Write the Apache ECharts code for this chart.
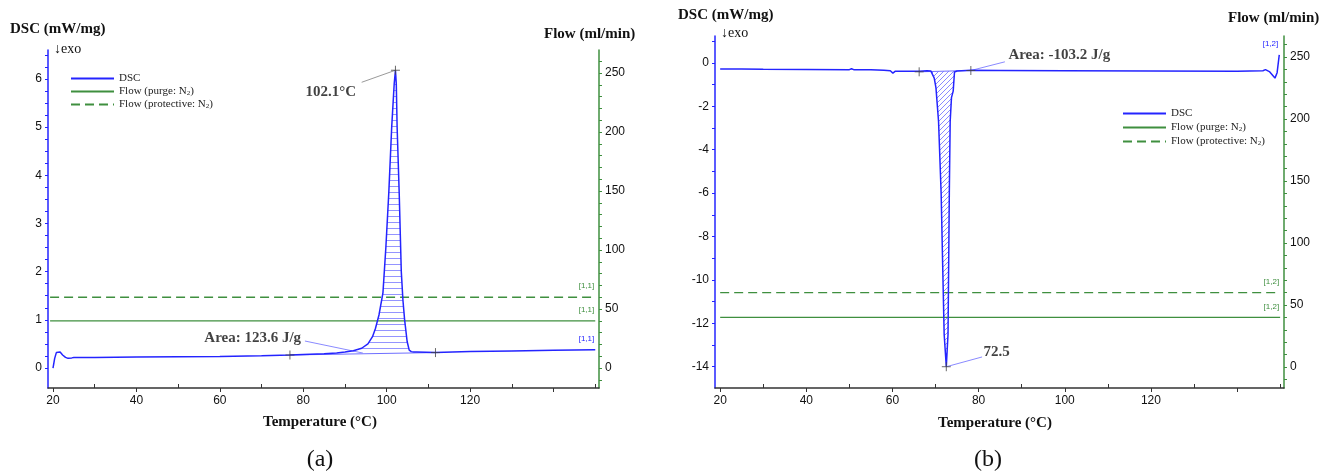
<!DOCTYPE html>
<html><head><meta charset="utf-8">
<script src="https://cdn.jsdelivr.net/npm/echarts@6/dist/echarts.min.js"></script>
<style>html,body{margin:0;padding:0;background:#fff}#c{width:1328px;height:473px}</style>
</head><body><div id="c"></div>
<script>
// ---------- data: panel (a) ----------
const dscA_T = [20,20.4,20.8,21.2,21.7,22.3,23,23.6,24.5,25,30,40,50,60,70,76.8,80,85,88,90,92,94,95.5,96.6,97.3,98.15,99.1,99.8,100.5,101.2,101.8,102.1,102.3,102.5,103.0,103.5,103.9,104.3,104.9,105.4,105.9,106.5,107.2,111.7,120,130,140,150];
const dscA_V = [0,0.2,0.32,0.35,0.33,0.27,0.22,0.2,0.21,0.22,0.22,0.23,0.235,0.24,0.255,0.27,0.28,0.295,0.31,0.33,0.36,0.41,0.5,0.65,0.82,1.1,1.56,2.5,3.63,5.0,5.9,6.18,5.9,5.0,3.63,2.0,1.4,1.0,0.55,0.37,0.34,0.33,0.33,0.32,0.34,0.355,0.37,0.38];
const baseA = [[76.8,0.27],[111.7,0.32]];
const peakA = [102.1,6.18];
// ---------- data: panel (b) ----------
const dscB_T = [20,25,30,40,50,50.5,51,55,58,59.5,60.1,60.6,61.5,64,66.2,68,68.9,69.7,70.1,70.7,71.3,72.0,72.5,72.9,73.2,73.4,73.7,74.1,74.4,75,78.2,85,100,120,140,146,146.6,147.5,148.8,149.3,149.8];
const dscB_V = [-0.28,-0.28,-0.29,-0.3,-0.31,-0.27,-0.31,-0.32,-0.34,-0.36,-0.47,-0.39,-0.38,-0.38,-0.38,-0.36,-0.37,-0.7,-1.15,-2.7,-6,-12.5,-14.0,-12.5,-6,-2.7,-1.6,-1.3,-0.42,-0.37,-0.34,-0.35,-0.36,-0.37,-0.38,-0.36,-0.31,-0.4,-0.7,-0.45,0.37];
const baseB = [[66.2,-0.41],[78.2,-0.35]];
const peakB = [72.5,-14.0];
// ---------- flows (ml/min) ----------
const flowRange = [20,150];
const purgeFlow = 40;
const protectiveFlow = 60;
// ---------- ticks ----------
const xLabelVals = [20,40,60,80,100,120];
const xMajorTicks = [20,40,60,80,100,120,140];
const xMinorTicks = [30,50,70,90,110,130,150];
const dscA_Labels = [0,1,2,3,4,5,6];
const dscB_Labels = [0,-2,-4,-6,-8,-10,-12,-14];
const flowLabels = [0,50,100,150,200,250];
// ---------- annotation texts ----------
const peakA_Text = '102.1°C', areaA_Text = 'Area: 123.6 J/g';
const peakB_Text = '72.5', areaB_Text = 'Area: -103.2 J/g';

const BLUE = '#2424ff', GREEN = '#3f8f3f', INK = '#111';
const SERIF = 'Liberation Serif', SANS = 'Liberation Sans';

function range(a,b,s){const r=[];for(let v=a;v<=b+1e-9;v+=s)r.push(+v.toFixed(4));return r;}
function pairs(T,V){return T.map((t,i)=>[t,V[i]]);}
function poly(T,V,base){
  const pts = pairs(T,V).filter(p=>p[0]>=base[0][0]&&p[0]<=base[1][0]);
  return [base[0]].concat(pts,[base[1]]);
}
function hatch(kind){
  const c=document.createElement('canvas'); const g=c.getContext('2d');
  g.lineWidth=1;
  if(kind==='h'){c.width=8;c.height=6;g.strokeStyle='rgba(60,60,255,0.55)';g.beginPath();g.moveTo(0,0.5);g.lineTo(8,0.5);g.stroke();}
  else{c.width=5;c.height=5;g.strokeStyle='rgba(60,60,255,0.6)';g.beginPath();g.moveTo(0,5);g.lineTo(5,0);g.moveTo(-1,1);g.lineTo(1,-1);g.moveTo(4,6);g.lineTo(6,4);g.stroke();}
  return c;
}
const patH = {image:hatch('h'),repeat:'repeat'};
const patD = {image:hatch('d'),repeat:'repeat'};

function xAxes(gi){
  return [
    {type:'value',gridIndex:gi,min:18.8,max:150.9,position:'bottom',
     axisLine:{show:true,onZero:false,lineStyle:{color:'#333',width:1.5}},
     axisTick:{show:true,customValues:xMajorTicks,length:4,lineStyle:{color:'#333'}},
     axisLabel:{customValues:xLabelVals,fontFamily:SANS,fontSize:12,color:INK,margin:7},
     splitLine:{show:false}},
    {type:'value',gridIndex:gi,min:18.8,max:150.9,position:'bottom',
     axisLine:{show:false,onZero:false},
     axisTick:{show:true,inside:true,customValues:xMinorTicks,length:4,lineStyle:{color:'#333'}},
     axisLabel:{show:false},splitLine:{show:false}}
  ];
}
function yAxis(gi,pos,min,max,labels,ticks,color){
  return {type:'value',gridIndex:gi,position:pos,min:min,max:max,
    axisLine:{show:true,onZero:false,lineStyle:{color:color,width:1.5}},
    axisTick:{show:true,customValues:ticks,length:3,lineStyle:{color:color}},
    axisLabel:{customValues:labels,fontFamily:SANS,fontSize:12,color:INK,margin:6},
    splitLine:{show:false}};
}

function panelSeries(gi,T,V,base,peak,pat,tag,ann){
  const xi=gi*2, yi=gi*2, fyi=gi*2+1;
  const fx=[gi===0?19.3:flowRange[0],flowRange[1]];
  const endLab=(c)=>({show:true,formatter:tag,fontSize:8,fontFamily:SANS,color:c,align:'right',offset:[-1,-11],distance:0});
  return [
    {type:'custom',xAxisIndex:xi,yAxisIndex:yi,data:[[100,0]],silent:true,z:1,
     renderItem:(p,api)=>({type:'polygon',shape:{points:poly(T,V,base).map(pt=>api.coord(pt))},style:{fill:pat,stroke:null}})},
    {name:'DSC',type:'line',xAxisIndex:xi,yAxisIndex:yi,data:pairs(T,V),symbol:'none',z:3,
     lineStyle:{color:BLUE,width:1.5},itemStyle:{color:BLUE},endLabel:endLab(BLUE)},
    {name:'Flow (purge: N2)',type:'line',xAxisIndex:xi,yAxisIndex:fyi,data:[[fx[0],purgeFlow],[fx[1],purgeFlow]],symbol:'none',z:2,
     lineStyle:{color:GREEN,width:1.3},itemStyle:{color:GREEN},endLabel:endLab(GREEN)},
    {name:'Flow (protective: N2)',type:'line',xAxisIndex:xi,yAxisIndex:fyi,data:[[fx[0],protectiveFlow],[fx[1],protectiveFlow]],symbol:'none',z:2,
     lineStyle:{color:GREEN,width:1.3,type:[9,5]},itemStyle:{color:GREEN},endLabel:endLab(GREEN)},
    {type:'line',xAxisIndex:xi,yAxisIndex:yi,data:base,symbol:'none',z:2,silent:true,
     lineStyle:{color:'#6f6fff',width:1}},
    {type:'line',xAxisIndex:xi,yAxisIndex:yi,data:ann.peakLead,symbol:'none',z:2,silent:true,
     lineStyle:{color:ann.peakLeadColor,width:1}},
    {type:'line',xAxisIndex:xi,yAxisIndex:yi,data:ann.areaLead,symbol:'none',z:2,silent:true,
     lineStyle:{color:'#8a8aff',width:1}},
    {type:'scatter',xAxisIndex:xi,yAxisIndex:yi,data:[base[0],base[1],peak],z:4,silent:true,
     symbol:'path://M5,0L5,10M0,5L10,5',symbolSize:9,itemStyle:{color:'rgba(0,0,0,0)',borderColor:'#444',borderWidth:1}},
    {type:'scatter',xAxisIndex:xi,yAxisIndex:yi,z:5,silent:true,symbolSize:1,itemStyle:{color:'rgba(0,0,0,0)'},
     label:{show:true,fontFamily:SERIF,fontWeight:'bold',fontSize:15,color:INK},
     data:ann.labels}
  ];
}

const annA = {
  peakLead:[[94.0,5.93],peakA], peakLeadColor:'#9a9a9a',
  areaLead:[[80.4,0.56],[94.3,0.31]],
  labels:[
    {value:[92.8,5.73],label:{formatter:peakA_Text,position:'left',distance:0}},
    {value:[79.6,0.62],label:{formatter:areaA_Text,position:'left',distance:0}}
  ]
};
const annB = {
  peakLead:[peakB,[80.8,-13.55]], peakLeadColor:'#8a8aff',
  areaLead:[baseB[1],[86.1,0.05]],
  labels:[
    {value:[81.0,-13.32],label:{formatter:peakB_Text,position:'right',distance:0}},
    {value:[86.8,0.37],label:{formatter:areaB_Text,position:'right',distance:0}}
  ]
};

const legendNames=['DSC','Flow (purge: N2)','Flow (protective: N2)'];
function legend(left,top,gap){
  return {orient:'vertical',left:left,top:top,padding:0,itemWidth:43,itemHeight:9,itemGap:gap,data:legendNames,
    selectedMode:false,
    itemStyle:{opacity:0,borderWidth:0},
    formatter:n=>n.replace('N2','N{s|2}'),
    textStyle:{fontFamily:SERIF,fontSize:11,lineHeight:11,color:'#222',rich:{s:{fontFamily:SERIF,fontSize:7,lineHeight:11,color:'#222',padding:[4,0,0,0]}}}};
}
function txt(x,y,s,size,bold,align){
  return {type:'text',x:x,y:y,style:{text:s,fontFamily:SERIF,fontSize:size,fontWeight:bold?'bold':'normal',fill:INK,align:align||'left',verticalAlign:'middle'}};
}

const chart=echarts.init(document.getElementById('c'),null,{renderer:'canvas'});
chart.setOption({
  animation:false,
  backgroundColor:'#fff',
  grid:[{left:48,top:50,width:551,height:338},{left:715,top:36,width:569,height:352}],
  xAxis:[...xAxes(0),...xAxes(1)],
  yAxis:[
    yAxis(0,'left',-0.415,6.6,dscA_Labels,range(0,6.5,0.25),BLUE),
    yAxis(0,'right',-16.9,269.5,flowLabels,range(-10,260,10),GREEN),
    yAxis(1,'left',-14.98,1.24,dscB_Labels,range(-14,1,1),BLUE),
    yAxis(1,'right',-16.9,267,flowLabels,range(-10,260,10),GREEN)
  ],
  legend:[legend(70,73,2),legend(1122,108,3)],
  series:[...panelSeries(0,dscA_T,dscA_V,baseA,peakA,patH,'[1,1]',annA),
          ...panelSeries(1,dscB_T,dscB_V,baseB,peakB,patD,'[1,2]',annB)],
  graphic:[
    txt(10,29,'DSC (mW/mg)',15,true),
    txt(54,49,'\u2193exo',14,false),
    txt(544,34,'Flow (ml/min)',15,true),
    txt(320,422,'Temperature (°C)',15,true,'center'),
    txt(320,460,'(a)',24,false,'center'),
    txt(678,15,'DSC (mW/mg)',15,true),
    txt(721,33,'\u2193exo',14,false),
    txt(1228,18,'Flow (ml/min)',15,true),
    txt(995,423,'Temperature (°C)',15,true,'center'),
    txt(988,460,'(b)',24,false,'center')
  ]
});
</script></body></html>
